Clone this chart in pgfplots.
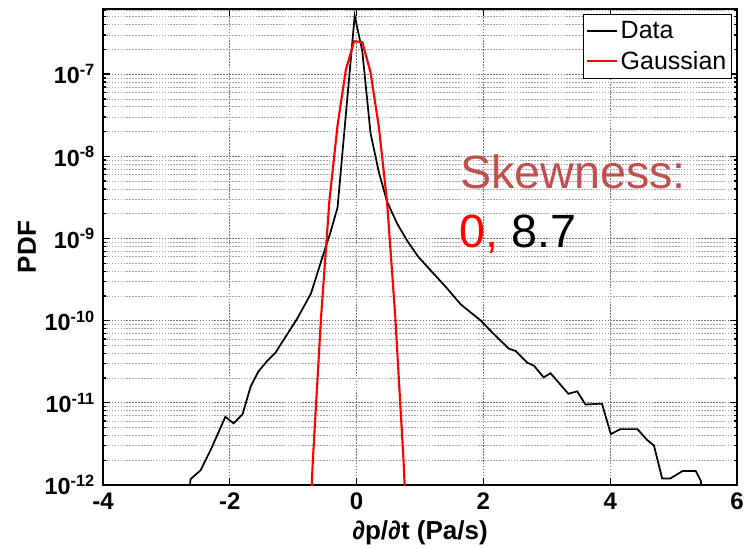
\documentclass[border=0pt]{standalone}
\usepackage{fontspec}
\setmainfont{Liberation Sans}
\usepackage{pgfplots}
\pgfplotsset{compat=1.18}
\definecolor{skew}{RGB}{192,80,77}
\begin{document}
\begin{tikzpicture}
\useasboundingbox (-77.25pt,-48pt) rectangle (486pt,363.75pt);
\begin{axis}[
  scale only axis,
  width=475.5pt, height=357pt,
  ymode=log, log basis y=10,
  xmin=-4, xmax=6,
  ymin=1e-12, ymax=6.2e-7,
  xtick={-4,-2,0,2,4,6},
  ytick={1e-12,1e-11,1e-10,1e-9,1e-8,1e-7},
  minor ytick={2e-12,3e-12,4e-12,5e-12,6e-12,7e-12,8e-12,9e-12,
    2e-11,3e-11,4e-11,5e-11,6e-11,7e-11,8e-11,9e-11,
    2e-10,3e-10,4e-10,5e-10,6e-10,7e-10,8e-10,9e-10,
    2e-9,3e-9,4e-9,5e-9,6e-9,7e-9,8e-9,9e-9,
    2e-8,3e-8,4e-8,5e-8,6e-8,7e-8,8e-8,9e-8,
    2e-7,3e-7,4e-7,5e-7,6e-7},
  xticklabel style={font=\fontsize{18}{20}\selectfont\bfseries, /pgf/number format/assume math mode=true, yshift=-2.5pt},
  yticklabel={\pgfmathparse{int(round(\tick))}10\textsuperscript{\pgfmathresult}},
  yticklabel style={font=\fontsize{17.5}{20}\selectfont\bfseries, xshift=-2.5pt},
  xmajorgrids, ymajorgrids, yminorgrids,
  major grid style={black!55, dash pattern=on 1.2pt off 1pt, line width=0.6pt},
  minor grid style={gray!70, dash pattern=on 1.2pt off 1pt, line width=0.5pt},
  axis line style={line width=1.2pt},
  major tick length=5.25pt, minor tick length=2.5pt,
  every tick/.style={black, line width=1pt},
  tick align=inside,
  xlabel={∂p/∂t (Pa/s)},
  ylabel={PDF},
  xlabel style={font=\fontsize{19.5}{22}\selectfont\bfseries, at={(axis description cs:0.5,-0.101)}, anchor=center},
  ylabel style={font=\fontsize{19.5}{22}\selectfont\bfseries, at={(axis description cs:-0.120,0.5)}, anchor=center},
  legend style={at={(rel axis cs:0.992,0.99)}, anchor=north east, fill=white,
    font=\fontsize{18.75}{21}\selectfont, inner xsep=2pt, inner ysep=3.5pt, row sep=4pt,
    nodes={inner sep=2pt}},
  legend cell align=left,
  legend image code/.code={\draw[#1] (0pt,0pt) -- (22.5pt,0pt);},
]
\addplot[black, line width=1.3pt] coordinates {
(-2.65,6.31e-13) (-2.62,1.175e-12) (-2.46,1.514e-12) (-2.30,2.692e-12)
(-2.07,6.761e-12) (-1.94,5.623e-12) (-1.80,7.244e-12) (-1.67,1.585e-11)
(-1.55,2.399e-11) (-1.41,3.236e-11) (-1.28,4.074e-11) (-1.09,6.918e-11)
(-0.94,1.047e-10) (-0.72,2.138e-10) (-0.54,5.888e-10) (-0.41,1.202e-9)
(-0.30,2.399e-9) (-0.03,5.129e-7) (0.09,1.905e-7) (0.22,1.905e-8)
(0.35,6.457e-9) (0.48,2.818e-9) (0.64,1.514e-9) (0.80,9.333e-10)
(0.97,6.026e-10) (1.17,4.074e-10) (1.43,2.455e-10) (1.64,1.585e-10)
(1.96,1.0e-10) (2.16,6.918e-11) (2.40,4.571e-11) (2.51,4.266e-11)
(2.69,3.090e-11) (2.80,2.818e-11) (2.95,2.042e-11) (3.06,2.291e-11)
(3.34,1.288e-11) (3.48,1.380e-11) (3.61,9.55e-12) (3.87,9.77e-12)
(4.01,4.169e-12) (4.16,4.786e-12) (4.43,4.786e-12) (4.58,3.548e-12)
(4.69,3.020e-12) (4.82,1.202e-12) (4.95,1.202e-12) (5.14,1.479e-12)
(5.35,1.479e-12) (5.43,1.122e-12) (5.46,6.31e-13)
};
\addlegendentry{Data}
\addplot[red, line width=1.6pt] coordinates {
(-0.82,1.26e-14) (-0.69,2.0e-12) (-0.56,1.12e-10) (-0.43,2.82e-9)
(-0.30,2.40e-8) (-0.17,1.12e-7) (-0.04,2.51e-7) (0.09,2.45e-7)
(0.22,1.05e-7) (0.35,2.30e-8) (0.48,2.82e-9) (0.61,1.12e-10)
(0.74,2.0e-12) (0.87,1.26e-14)
};
\addlegendentry{Gaussian}
\node[anchor=base west, inner sep=0pt, text=skew, font=\fontsize{35}{40}\selectfont] at (axis cs:1.63,4.07e-9) {Skewness:};
\node[anchor=base west, inner sep=0pt, font=\fontsize{35}{40}\selectfont] at (axis cs:1.615,7.76e-10) {\textcolor{red}{0,} 8.7};
\node[anchor=base east, inner sep=0pt, font=\fontsize{15}{18}\selectfont\bfseries] at ([xshift=3.75pt,yshift=-39.75pt]rel axis cs:1,0) {x 10\textsuperscript{7}};
\end{axis}
\end{tikzpicture}
\end{document}
